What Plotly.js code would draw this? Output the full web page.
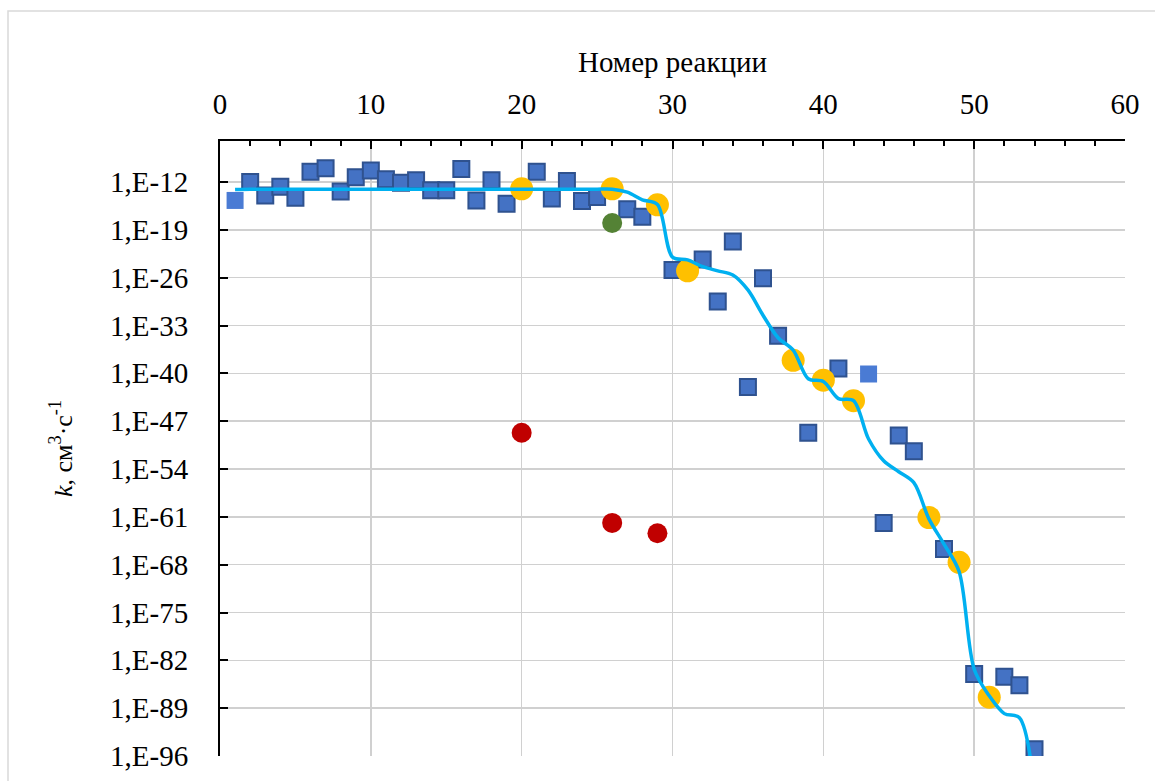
<!DOCTYPE html>
<html>
<head>
<meta charset="utf-8">
<script src="https://cdn.plot.ly/plotly-3.0.1.min.js"></script>
<style>
  html, body { margin: 0; padding: 0; background: #ffffff; overflow: hidden; }
  #chart { width: 1155px; height: 781px; }
  #chart svg text { font-family: "Liberation Serif", "Times New Roman", serif !important; }
</style>
</head>
<body>
<div id="chart"></div>
<script>
// ---- data ----
const squareX = [2,3,4,5,6,7,8,9,10,11,12,13,14,15,16,17,18,19,21,22,23,24,25,27,28,30,32,33,34,35,36,37,39,41,44,45,46,48,50,52,53,54];
const squareK = [1.0e-12,1.1e-14,2.0e-13,5.0e-15,3.2e-11,1.0e-10,4.0e-14,5.0e-12,5.0e-11,2.5e-12,8.0e-13,1.8e-12,6.3e-14,6.3e-14,8.0e-11,2.0e-15,1.8e-12,6.3e-16,3.2e-11,4.0e-15,1.4e-12,1.6e-15,6.3e-15,1.0e-16,8.0e-18,1.3e-25,4.5e-24,3.2e-30,2.0e-21,1.0e-42,8.0e-27,3.2e-35,2.0e-49,5.0e-40,1.3e-62,8.0e-50,4.0e-52,2.0e-66,1.0e-84,4.0e-85,2.2e-86,1.0e-95];

const lightSquareX = [1, 43];
const lightSquareK = [2.0e-15, 8.0e-41];

const yellowX = [20,26,29,31,38,40,42,47,49,51];
const yellowK = [1.0e-13,1.0e-13,4.5e-16,1.0e-25,8.0e-39,1.0e-41,1.0e-44,8.0e-62,2.2e-68,4.0e-88];

const greenX = [26];
const greenK = [1.0e-18];

const redX = [20,26,29];
const redK = [2.0e-49,1.3e-62,4.0e-64];

const lineX = [1,2,3,4,5,6,7,8,9,10,11,12,13,14,15,16,17,18,19,20,21,22,23,24,25,26,27,28,29,30,31,32,33,34,35,36,37,38,39,40,41,42,43,44,45,46,47,48,49,50,51,52,53,54];
const lineK = [8.0e-14,9.0e-14,9.0e-14,9.0e-14,9.0e-14,9.0e-14,9.0e-14,9.0e-14,9.0e-14,9.0e-14,9.0e-14,9.0e-14,9.0e-14,9.0e-14,9.0e-14,9.0e-14,9.0e-14,9.0e-14,9.0e-14,9.0e-14,9.0e-14,9.0e-14,9.0e-14,9.0e-14,9.0e-14,9.0e-14,3.2e-14,2.5e-15,5.0e-16,1.0e-23,4.0e-24,4.0e-25,1.0e-25,2.5e-26,1.6e-28,3.2e-32,1.6e-35,2.5e-37,1.6e-41,6.3e-42,2.0e-44,1.0e-44,2.5e-50,1.6e-53,4.0e-55,1.0e-56,5.0e-62,1.0e-65,1.0e-69,5.0e-84,6.3e-88,1.6e-90,4.0e-91,1.0e-101];

const yTickVals = [1e-12,1e-19,1e-26,1e-33,1e-40,1e-47,1e-54,1e-61,1e-68,1e-75,1e-82,1e-89,1e-96];
const yTickText = ["1,E-12","1,E-19","1,E-26","1,E-33","1,E-40","1,E-47","1,E-54","1,E-61","1,E-68","1,E-75","1,E-82","1,E-89","1,E-96"];
const xTickVals = [0,10,20,30,40,50,60];

const xTitle = "Номер реакции";
const yTitle = "<i>k</i>, см<sup>3</sup>·с<sup>-1</sup>";

// ---- chart ----
const FONT = "Liberation Serif";

const traces = [
  { x: squareX, y: squareK, type: 'scatter', mode: 'markers',
    marker: { symbol: 'square', size: 16, color: '#4472C4', line: { color: '#2F528F', width: 2 } } },
  { x: lightSquareX, y: lightSquareK, type: 'scatter', mode: 'markers',
    marker: { symbol: 'square', size: 17, color: '#4A7BD4', line: { width: 0 } } },
  { x: yellowX, y: yellowK, type: 'scatter', mode: 'markers',
    marker: { symbol: 'circle', size: 23, color: '#FFC000', line: { width: 0 } } },
  { x: greenX, y: greenK, type: 'scatter', mode: 'markers',
    marker: { symbol: 'circle', size: 20, color: '#548235', line: { width: 0 } } },
  { x: redX, y: redK, type: 'scatter', mode: 'markers',
    marker: { symbol: 'circle', size: 20, color: '#C00000', line: { width: 0 } } },
  { x: lineX, y: lineK, type: 'scatter', mode: 'lines',
    line: { color: '#00B0F0', width: 3.5, shape: 'spline', smoothing: 0.9 } }
];

const layout = {
  width: 1155, height: 781,
  margin: { l: 220, r: 30, t: 141, b: 25 },
  paper_bgcolor: '#ffffff', plot_bgcolor: '#ffffff',
  showlegend: false,
  font: { family: FONT, color: '#000000', size: 29 },
  xaxis: {
    side: 'top', range: [0, 60], tickmode: 'array', tickvals: xTickVals,
    showgrid: true, gridcolor: '#D0D0D0', gridwidth: 1.5, zeroline: false,
    showline: true, linecolor: '#000000', linewidth: 2,
    ticks: 'inside', ticklen: 8, tickwidth: 2, tickcolor: '#000000',
    minor: { dtick: 2, ticks: 'inside', ticklen: 5, tickwidth: 2, tickcolor: '#000000', showgrid: false },
    tickfont: { family: FONT, size: 29, color: '#000000' },
    ticklabelstandoff: 13,
    title: { text: xTitle, font: { family: FONT, size: 29, color: '#000000' }, standoff: 7 }
  },
  yaxis: {
    type: 'log', range: [-96, -6], tickmode: 'array', tickvals: yTickVals, ticktext: yTickText,
    showgrid: true, gridcolor: '#D0D0D0', gridwidth: 1.5, zeroline: false,
    showline: true, linecolor: '#000000', linewidth: 2,
    ticks: 'inside', ticklen: 8, tickwidth: 2, tickcolor: '#000000',
    tickfont: { family: FONT, size: 29, color: '#000000' },
    ticklabelstandoff: 24,
    title: { text: yTitle, font: { family: FONT, size: 26, color: '#000000' }, standoff: 30 }
  },
  shapes: [
    { type: 'rect', xref: 'paper', yref: 'paper',
      x0: (8 - 220) / 905, x1: (1170 - 220) / 905,
      y0: (756 - 800) / 615, y1: (756 - 11) / 615,
      line: { color: '#D9D9D9', width: 1.5 }, fillcolor: 'rgba(0,0,0,0)', layer: 'below' }
  ]
};

Plotly.newPlot('chart', traces, layout, { displayModeBar: false, staticPlot: true });
</script>
</body>
</html>
